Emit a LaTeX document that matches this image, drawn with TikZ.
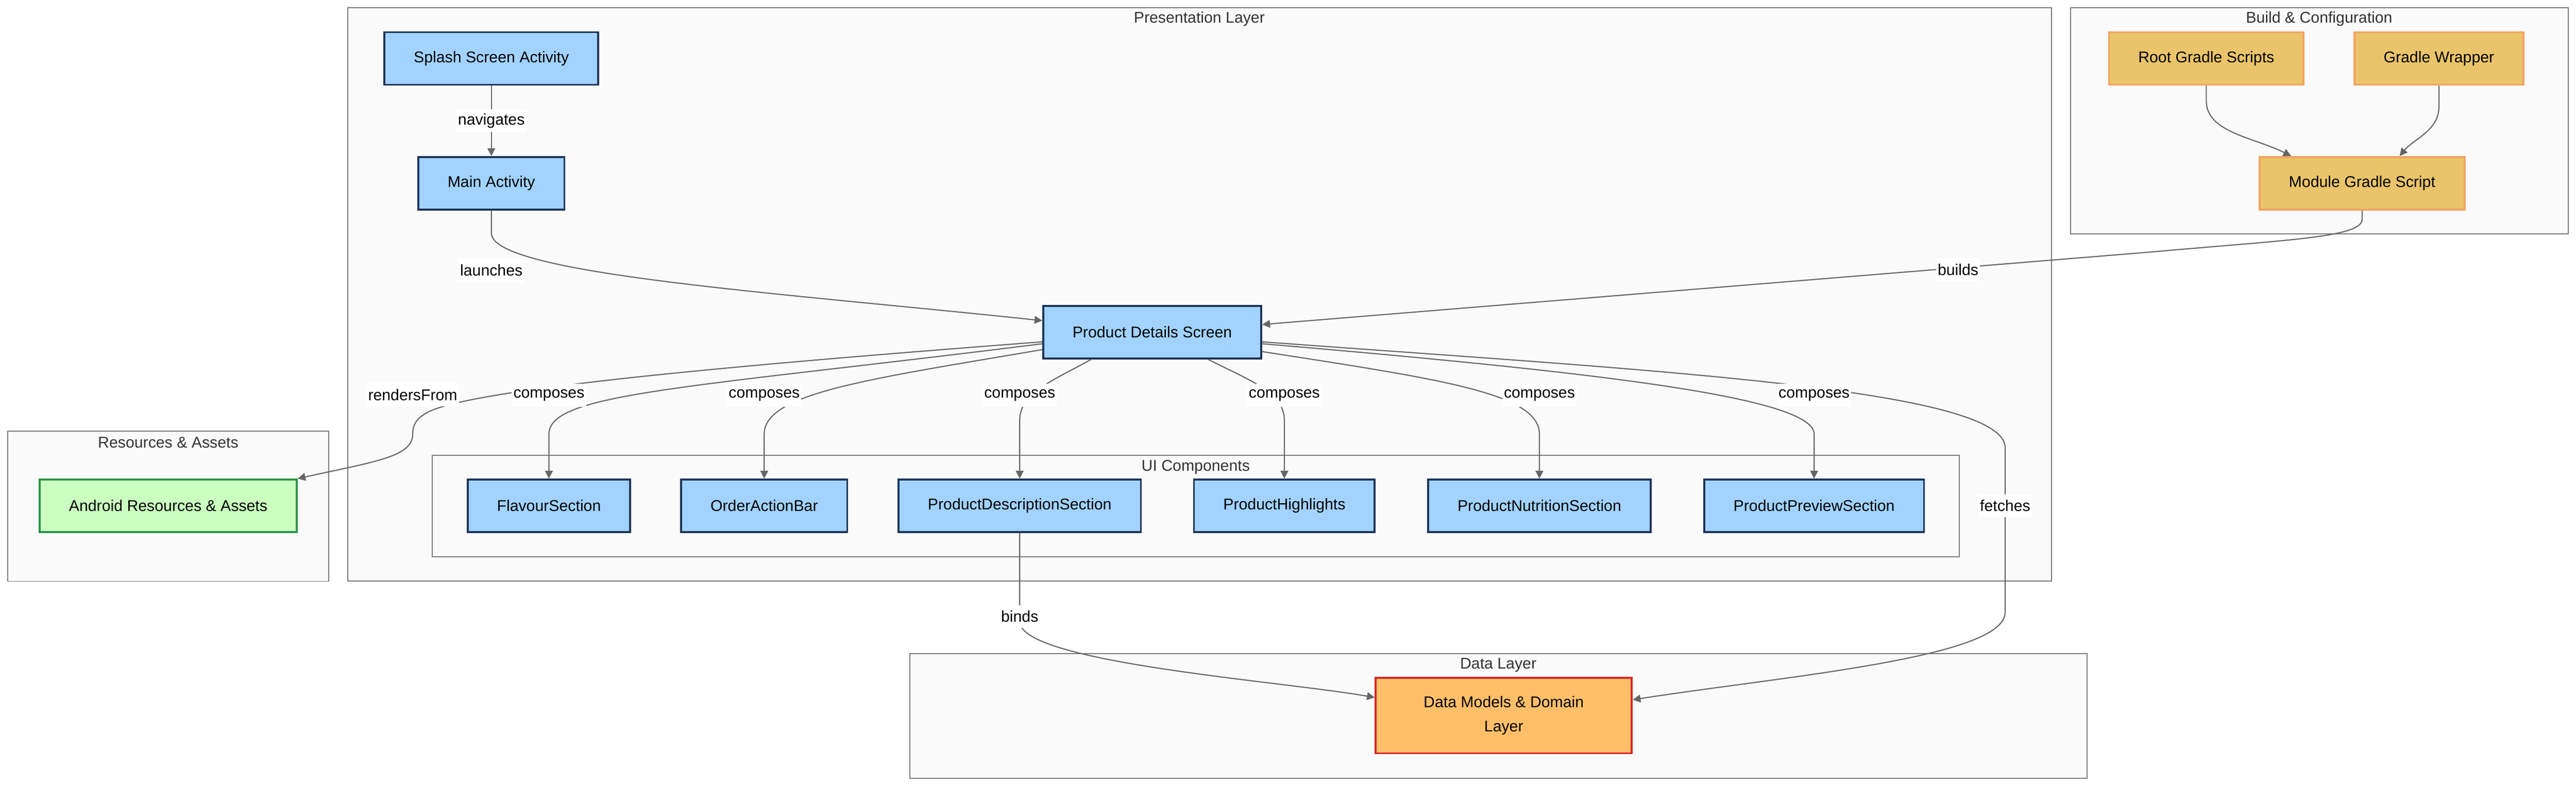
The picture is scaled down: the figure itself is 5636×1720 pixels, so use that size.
\documentclass[tikz,border=0pt]{standalone}
\usepackage{fontspec}
\setmainfont{Liberation Sans}
\usetikzlibrary{arrows.meta}
\definecolor{uifill}{HTML}{A2D2FF}
\definecolor{uidraw}{HTML}{1D3557}
\definecolor{buildfill}{HTML}{E9C46A}
\definecolor{builddraw}{HTML}{F4A261}
\definecolor{resfill}{HTML}{CAFFBF}
\definecolor{resdraw}{HTML}{2B9348}
\definecolor{datafill}{HTML}{FFBF69}
\definecolor{datadraw}{HTML}{D62828}
\definecolor{clusterfill}{HTML}{FAFAFA}
\definecolor{clusterdraw}{HTML}{7A7A7A}
\definecolor{edgegray}{HTML}{666666}
\definecolor{titlegray}{HTML}{333333}

\begin{document}
\begin{tikzpicture}[x=0.01cm, y=-0.01cm,
  font=\fontsize{9.7}{11.6}\selectfont,
  box/.style={draw, line width=1.2pt, inner xsep=0.64cm, inner ysep=0pt, minimum height=1.15cm},
  uibox/.style={box, fill=uifill, draw=uidraw},
  buildbox/.style={box, fill=buildfill, draw=builddraw},
  resbox/.style={box, fill=resfill, draw=resdraw},
  databox/.style={box, fill=datafill, draw=datadraw, align=center, minimum width=5.6cm, minimum height=1.65cm},
  cluster/.style={draw=clusterdraw, fill=clusterfill, line width=0.6pt},
  title/.style={text=titlegray},
  lbl/.style={fill=white, inner xsep=1pt, inner ysep=0pt, minimum height=0.5cm},
  flow/.style={draw=edgegray, line width=0.7pt, -{Triangle[length=0.17cm,width=0.17cm]}}]
	\useasboundingbox[fill=white] (0,0) rectangle (5636,1720);

	\draw[cluster] (761,17) rectangle (4488,1271);
	\draw[cluster] (4530,17) rectangle (5619,512);
	\draw[cluster] (17,943) rectangle (719,1272);
	\draw[cluster] (946,996) rectangle (4287,1218);
	\draw[cluster] (1991,1430) rectangle (4566,1703);
	\node[title] (presT) at (2624,41) {Presentation Layer};
	\node[title] (buildT) at (5074,41) {Build \& Configuration};
	\node[title] (resT) at (368,969) {Resources \& Assets};
	\node[title] (uiT) at (2616,1022) {UI Components};
	\node[title] (dataT) at (3278,1455) {Data Layer};

	\node[uibox] (splash) at (1075,128) {Splash Screen Activity};
	\node[uibox] (main) at (1075,401) {Main Activity};
	\node[uibox] (pds) at (2521,727) {Product Details Screen};
	\node[buildbox] (root) at (4827,128) {Root Gradle Scripts};
	\node[buildbox] (wrapper) at (5336,128) {Gradle Wrapper};
	\node[buildbox] (module) at (5168,401) {Module Gradle Script};
	\node[resbox] (assets) at (368,1107) {Android Resources \& Assets};
	\node[uibox] (flavour) at (1201,1107) {FlavourSection};
	\node[uibox] (order) at (1672,1107) {OrderActionBar};
	\node[uibox] (desc) at (2231,1107) {ProductDescriptionSection};
	\node[uibox] (highl) at (2810,1107) {ProductHighlights};
	\node[uibox] (nutri) at (3368,1107) {ProductNutritionSection};
	\node[uibox] (preview) at (3969,1107) {ProductPreviewSection};
	\node[databox, font=\fontsize{9.7}{15}\selectfont] (models) at (3290,1566) {Data Models \& Domain\\Layer};

	\draw[flow] (splash) -- (main);
	\draw[flow] (main.south) -- (1075,510) .. controls (1075,600) and (1700,640) .. (pds.174.4);
	\draw[flow] (module.south) -- (5168,480) .. controls (5168,520) and (5000,525) .. (4700,552) -- (pds.4.9);
	\draw[flow] (root.south) -- (4827,220) .. controls (4827,290) and (4930,300) .. (module.159);
	\draw[flow] (wrapper.south) -- (5336,235) .. controls (5336,285) and (5280,305) .. (module.36.3);
	\draw[flow] (pds.185) .. controls (1600,800) and (1050,850) .. (940,900) .. controls (910,915) and (903,930) .. (903,950) .. controls (903,1000) and (820,1010) .. (assets.north east);
	\draw[flow] (pds.186.5) .. controls (1500,850) and (1201,860) .. (1201,950) -- (flavour.north);
	\draw[flow] (pds.189.3) .. controls (1900,830) and (1672,860) .. (1672,950) -- (order.north);
	\draw[flow] (pds.204.7) .. controls (2300,835) and (2231,860) .. (2231,920) -- (desc.north);
	\draw[flow] (pds.334.9) .. controls (2740,835) and (2810,860) .. (2810,920) -- (highl.north);
	\draw[flow] (pds.350.9) .. controls (3150,830) and (3368,860) .. (3368,950) -- (nutri.north);
	\draw[flow] (pds.354.7) .. controls (3500,815) and (3969,870) .. (3969,950) -- (preview.north);
	\draw[flow] (pds.355.8) .. controls (3600,810) and (4387,850) .. (4387,980) -- (4387,1340) .. controls (4387,1440) and (3900,1480) .. (models.7.3);
	\draw[flow] (desc.south) -- (2231,1360) .. controls (2231,1450) and (2800,1490) .. (models.172.7);

	\node[lbl] (navL) at (1075,264) {navigates};
	\node[lbl] (launchL) at (1075,591) {launches};
	\node[lbl] (buildL) at (4284,590) {builds};
	\node[lbl] (rendL) at (903,864) {rendersFrom};
	\node[lbl] (flavL) at (1201,865) {composes};
	\node[lbl] (orderL) at (1672,865) {composes};
	\node[lbl] (descL) at (2231,865) {composes};
	\node[lbl] (highlL) at (2810,865) {composes};
	\node[lbl] (nutriL) at (3368,865) {composes};
	\node[lbl] (prevL) at (3969,865) {composes};
	\node[lbl] (fetchL) at (4387,1107) {fetches};
	\node[lbl] (bindL) at (2231,1349) {binds};
\end{tikzpicture}
\end{document}
